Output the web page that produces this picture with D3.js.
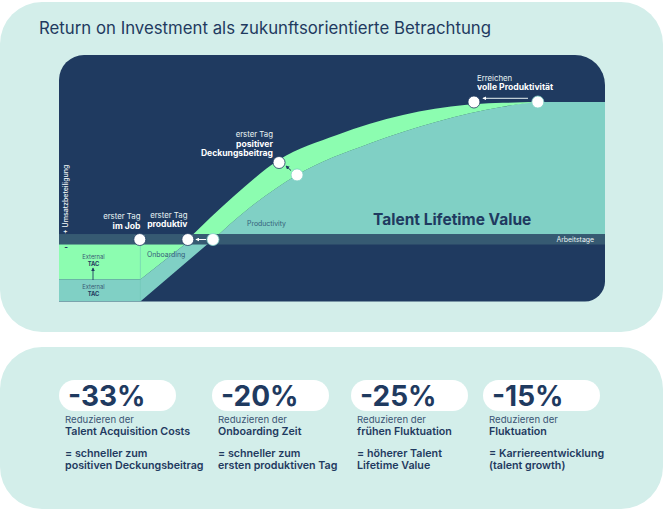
<!DOCTYPE html>
<html>
<head>
<meta charset="utf-8">
<script src="https://cdn.jsdelivr.net/npm/d3@7"></script>
<style>
html, body { margin: 0; padding: 0; background: #fff; }
svg { display: block; }
text { font-family: Inter, "Noto Sans", sans-serif; }
</style>
</head>
<body>
<svg id="chart" width="665" height="511"></svg>
<script>
// curve data: x = Arbeitstage (0-100), y = productivity in %
var productivityDays = [28.2, 34.4, 43.6, 57, 69.2, 81.3, 87.5, 100];
var productivityValues = [0, 21.5, 47, 70, 85.7, 96.6, 100, 100];
var improvedDays = [23.6, 31.9, 40.3, 50.9, 63, 74.7, 87.5];
var improvedValues = [0, 31.1, 58, 76, 90.5, 98, 100];

// below the axis (onboarding / TAC)
var tacSplitDay = 14.9;
var externalTacNew = -29;
var externalTacOld = -45;
var onboardingTopDays = [tacSplitDay, 24.2];
var onboardingTopValues = [externalTacNew, 0];
var onboardingBottomDays = [tacSplitDay, 28.2];
var onboardingBottomValues = [externalTacOld, 0];

// milestones
var milestoneDays = [14.8, 23.6, 28.2, 40.3, 43.6, 76, 87.7];
var milestoneValues = [0, 0, 0, 56, 47, 100, 100];
var milestoneRing = [true, true, false, true, false, true, false];

var percentLabels = ["-33%", "-20%", "-25%", "-15%"];
var reduceLabels = ["Reduzieren der", "Reduzieren der", "Reduzieren der", "Reduzieren der"];
var targetLabels = ["Talent Acquisition Costs", "Onboarding Zeit", "frühen Fluktuation", "Fluktuation"];
var resultLine1 = ["= schneller zum", "= schneller zum", "= höherer Talent", "= Karriereentwicklung"];
var resultLine2 = ["positiven Deckungsbeitrag", "ersten produktiven Tag", "Lifetime Value", "(talent growth)"];

var navy = "#1f3a60", mint = "#d3eeea", green = "#8cfdb0", teal = "#80d0c5", band = "#365a72";

var svg = d3.select("#chart");
var xScale = d3.scaleLinear().domain([0, 100]).range([59, 605]);
var yScale = d3.scaleLinear().domain([externalTacOld, 100]).range([301.4, 102]);

// background panels
svg.append("rect").attr("x", 0).attr("y", 2).attr("width", 663).attr("height", 330).attr("rx", 42).attr("fill", mint);
svg.append("rect").attr("x", 0).attr("y", 347).attr("width", 663).attr("height", 162).attr("rx", 42).attr("fill", mint);

svg.append("text").attr("x", 39).attr("y", 34).attr("font-size", 16.8).attr("fill", navy)
    .text("Return on Investment als zukunftsorientierte Betrachtung");

// dark plot area, only the bottom left corner is square
var panelPath = "M59,301.4 V80 A25,25 0 0 1 84,55 H575 A30,30 0 0 1 605,85 V281.4 A20,20 0 0 1 585,301.4 Z";
svg.append("clipPath").attr("id", "panelClip").append("path").attr("d", panelPath);
svg.append("path").attr("d", panelPath).attr("fill", navy);
var plot = svg.append("g").attr("clip-path", "url(#panelClip)");

function zipPoints(days, values) {
    return days.map(function (d, i) { return [d, values[i]]; });
}
var curveLine = d3.line().x(function (d) { return xScale(d[0]); }).y(function (d) { return yScale(d[1]); });
var smoothLine = d3.line().x(function (d) { return xScale(d[0]); }).y(function (d) { return yScale(d[1]); }).curve(d3.curveMonotoneX);

var productivity = zipPoints(productivityDays, productivityValues);
var improved = zipPoints(improvedDays, improvedValues);

// teal area under the productivity curve
var tealArea = d3.area()
    .x(function (d) { return xScale(d[0]); })
    .y0(yScale(0))
    .y1(function (d) { return yScale(d[1]); })
    .curve(d3.curveMonotoneX);
plot.append("path").attr("d", tealArea(productivity)).attr("fill", teal);

// green band between both curves
var upperPath = smoothLine(improved);
var lowerPath = smoothLine(productivity.slice(0, 7).reverse());
plot.append("path").attr("d", upperPath + "L" + lowerPath.slice(1) + "Z").attr("fill", green);

// below the axis
plot.append("path")
    .attr("d", curveLine([[0, 0], [onboardingTopDays[1], 0], [tacSplitDay, externalTacNew], [0, externalTacNew]]) + "Z")
    .attr("fill", green);
plot.append("path")
    .attr("d", curveLine([[0, externalTacNew], [tacSplitDay, externalTacNew], [onboardingTopDays[1], onboardingTopValues[1]],
        [onboardingBottomDays[1], onboardingBottomValues[1]], [onboardingBottomDays[0], onboardingBottomValues[0]], [0, externalTacOld]]) + "Z")
    .attr("fill", teal);
plot.append("line")
    .attr("x1", xScale(tacSplitDay)).attr("x2", xScale(tacSplitDay))
    .attr("y1", yScale(0)).attr("y2", yScale(externalTacOld))
    .attr("stroke", "#6fc4b6").attr("stroke-width", 0.6);

// axis band
plot.append("rect").attr("x", xScale(0)).attr("width", 546).attr("y", yScale(0) - 5.5).attr("height", 10.5).attr("fill", band);

function addText(parent, x, y, str, size, weight, fill, anchor) {
    return parent.append("text").attr("x", x).attr("y", y).attr("font-size", size)
        .attr("font-weight", weight).attr("fill", fill).attr("text-anchor", anchor || "start").text(str);
}

addText(svg, 594, 242.2, "Arbeitstage", 6.9, 400, "#e8f3f3", "end");
addText(svg, 373, 225, "Talent Lifetime Value", 15.5, 700, navy);
addText(svg, 247, 226, "Productivity", 6.9, 400, "#34607a");
addText(svg, 147, 256.5, "Onboarding", 6.9, 400, "#34607a");

addText(svg, 93.5, 259, "External", 5.8, 400, "#3a5a75", "middle");
addText(svg, 93.5, 266, "TAC", 5.8, 700, navy, "middle");
addText(svg, 93.5, 288.7, "External", 5.8, 400, "#3a5a75", "middle");
addText(svg, 93.5, 295.7, "TAC", 5.8, 700, navy, "middle");

svg.append("text").attr("transform", "translate(68,234) rotate(-90)").attr("font-size", 7).attr("font-weight", 500).attr("fill", "#f2f8f8")
    .text("+ Umsatzbeteiligung");
addText(svg, 66, 250, "-", 8, 700, navy, "middle");

// small arrows between the milestones
svg.append("defs").selectAll("marker").data(["arrowWhite", "arrowNavy"]).enter().append("marker")
    .attr("id", function (d) { return d; })
    .attr("viewBox", "0 0 6 6").attr("refX", 5).attr("refY", 3)
    .attr("markerWidth", 4).attr("markerHeight", 4).attr("orient", "auto")
    .append("path").attr("d", "M0,0 L6,3 L0,6 Z")
    .attr("fill", function (d) { return d == "arrowWhite" ? "#fff" : navy; });

function addArrow(x1, y1, x2, y2, marker, colour, width) {
    svg.append("line").attr("x1", x1).attr("y1", y1).attr("x2", x2).attr("y2", y2)
        .attr("stroke", colour).attr("stroke-width", width)
        .attr("marker-end", "url(#" + marker + ")");
}
addArrow(93, 280, 93, 268, "arrowNavy", navy, 0.9);
addArrow(206, yScale(0), 196, yScale(0), "arrowWhite", "#fff", 1);
addArrow(291, 170.5, 286, 166, "arrowNavy", navy, 1);
addArrow(528, 98.3, 483, 98.3, "arrowWhite", "#e8f3f3", 1);

// milestones
svg.selectAll(".milestone").data(milestoneDays).enter().append("circle")
    .attr("class", "milestone")
    .attr("cx", function (d) { return xScale(d); })
    .attr("cy", function (d, i) { return yScale(milestoneValues[i]); })
    .attr("r", 6)
    .attr("fill", "#fff")
    .attr("stroke", function (d, i) { return milestoneRing[i] ? navy : teal; })
    .attr("stroke-width", 0.8);

addText(svg, 140.5, 219, "erster Tag", 7.8, 400, "#e8f3f3", "end");
addText(svg, 140.5, 228.5, "im Job", 8.6, 700, "#fff", "end");
addText(svg, 187.5, 218, "erster Tag", 7.8, 400, "#e8f3f3", "end");
addText(svg, 187.5, 227, "produktiv", 8.6, 700, "#fff", "end");
addText(svg, 273, 137, "erster Tag", 7.8, 400, "#e8f3f3", "end");
addText(svg, 273, 146.5, "positiver", 8.6, 700, "#fff", "end");
addText(svg, 273, 156, "Deckungsbeitrag", 8.6, 700, "#fff", "end");
addText(svg, 477, 80.5, "Erreichen", 7.8, 400, "#e8f3f3");
addText(svg, 477, 90, "volle Produktivität", 8.6, 700, "#fff");

// bottom cards
var cardLeft = [59, 212, 351, 483];
var cards = svg.selectAll(".card").data(percentLabels).enter().append("g")
    .attr("class", "card")
    .attr("transform", function (d, i) { return "translate(" + cardLeft[i] + ",0)"; });
cards.append("rect").attr("y", 380).attr("width", 117).attr("height", 31).attr("rx", 15.5).attr("fill", "#fff");
cards.append("text").attr("x", 9).attr("y", 405.5).attr("font-size", 28).attr("font-weight", 700).attr("fill", navy)
    .text(function (d) { return d; });
cards.append("text").attr("x", 6).attr("y", 423).attr("font-size", 9.6).attr("fill", "#3a5575")
    .text(function (d, i) { return reduceLabels[i]; });
cards.append("text").attr("x", 6).attr("y", 434.5).attr("font-size", 10.7).attr("font-weight", 600).attr("fill", navy)
    .text(function (d, i) { return targetLabels[i]; });
cards.append("text").attr("x", 6).attr("y", 457).attr("font-size", 10.7).attr("font-weight", 600).attr("fill", navy)
    .text(function (d, i) { return resultLine1[i]; });
cards.append("text").attr("x", 6).attr("y", 469).attr("font-size", 10.7).attr("font-weight", 600).attr("fill", navy)
    .text(function (d, i) { return resultLine2[i]; });
</script>
</body>
</html>
